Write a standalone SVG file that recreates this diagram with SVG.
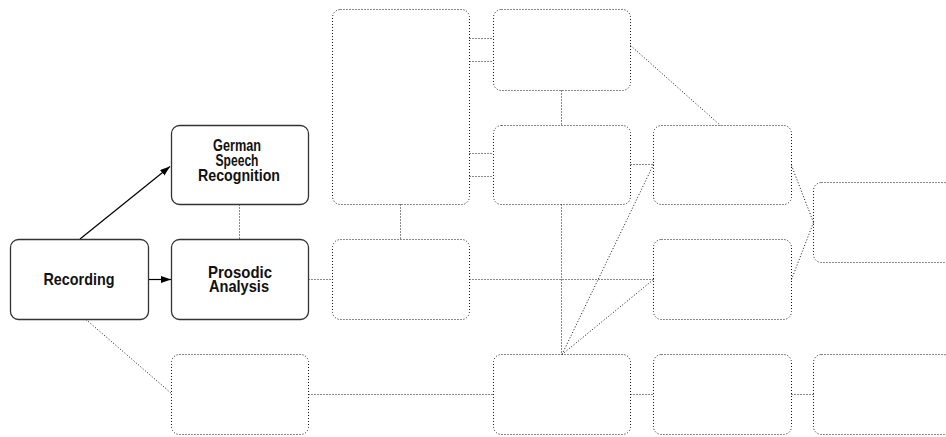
<svg xmlns="http://www.w3.org/2000/svg" width="946" height="437" viewBox="0 0 946 437">
  <style>
    .solid { fill: #fff; stroke: #333; stroke-width: 1.3; }
    .dotbox { fill: none; stroke: #111; stroke-width: 1; stroke-dasharray: 1 2; }
    .dot { fill: none; stroke: #111; stroke-width: 1; stroke-dasharray: 1 2; }
    .arrow { fill: none; stroke: #000; stroke-width: 1.2; }
    .label { font-family: "Liberation Sans Narrow", "Liberation Sans", Arial, sans-serif; font-weight: bold; font-size: 16.5px; fill: #111; text-anchor: middle; }
  </style>
  <defs>
    <marker id="head" markerWidth="11" markerHeight="8" refX="10" refY="3.5" orient="auto" markerUnits="userSpaceOnUse">
      <path d="M0,0 L10,3.5 L0,7 Z" fill="#000"/>
    </marker>
  </defs>
  <rect width="946" height="437" fill="#fff"/>

  <!-- connectors -->
  <g id="connectors">
    <line class="arrow" x1="80" y1="239" x2="170" y2="166.5" marker-end="url(#head)"/>
    <line class="arrow" x1="148.5" y1="279.5" x2="171" y2="279.5" marker-end="url(#head)"/>
    <line class="dot" x1="239.5" y1="204.5" x2="239.5" y2="239.5"/>
    <line class="dot" x1="308.5" y1="279.5" x2="332.5" y2="279.5"/>
    <line class="dot" x1="400.5" y1="204.5" x2="400.5" y2="239.5"/>
    <line class="dot" x1="469.5" y1="38.5" x2="493.5" y2="38.5"/>
    <line class="dot" x1="469.5" y1="61.5" x2="493.5" y2="61.5"/>
    <line class="dot" x1="469.5" y1="153.5" x2="493.5" y2="153.5"/>
    <line class="dot" x1="469.5" y1="176.5" x2="493.5" y2="176.5"/>
    <line class="dot" x1="561.5" y1="90.5" x2="561.5" y2="125.5"/>
    <line class="dot" x1="630.5" y1="45.5" x2="720.5" y2="125.5"/>
    <line class="dot" x1="630.5" y1="164.5" x2="653.5" y2="164.5"/>
    <line class="dot" x1="561.5" y1="204.5" x2="561.5" y2="354.5"/>
    <line class="dot" x1="469.5" y1="279.5" x2="653.5" y2="279.5"/>
    <line class="dot" x1="562" y1="354.5" x2="653.5" y2="164.5"/>
    <line class="dot" x1="562" y1="354.5" x2="653.5" y2="279.5"/>
    <line class="dot" x1="791.5" y1="165.5" x2="813.5" y2="222.5"/>
    <line class="dot" x1="791.5" y1="279.5" x2="813.5" y2="222.5"/>
    <line class="dot" x1="86" y1="319.5" x2="171.5" y2="393.5"/>
    <line class="dot" x1="308.5" y1="394.5" x2="493.5" y2="394.5"/>
    <line class="dot" x1="630.5" y1="394.5" x2="653.5" y2="394.5"/>
    <line class="dot" x1="791.5" y1="394.5" x2="813.5" y2="394.5"/>
  </g>

  <!-- labelled nodes -->
  <g id="recording">
    <rect class="solid" x="10.5" y="239.5" width="138" height="80" rx="8"/>
    <text class="label" x="79" y="285" textLength="71" lengthAdjust="spacingAndGlyphs">Recording</text>
  </g>
  <g id="german-speech-recognition">
    <rect class="solid" x="171.5" y="125.5" width="137" height="79" rx="8"/>
    <text class="label" x="237" y="150.5" textLength="48" lengthAdjust="spacingAndGlyphs">German</text>
    <text class="label" x="237" y="165.5" textLength="43" lengthAdjust="spacingAndGlyphs">Speech</text>
    <text class="label" x="239" y="180.5" textLength="82" lengthAdjust="spacingAndGlyphs">Recognition</text>
  </g>
  <g id="prosodic-analysis">
    <rect class="solid" x="171.5" y="239.5" width="137" height="80" rx="8"/>
    <text class="label" x="240" y="277.5" textLength="64" lengthAdjust="spacingAndGlyphs">Prosodic</text>
    <text class="label" x="239" y="292" textLength="60" lengthAdjust="spacingAndGlyphs">Analysis</text>
  </g>

  <!-- empty dotted nodes -->
  <g id="n-tall"><rect class="dotbox" x="332.5" y="9.5" width="137" height="195" rx="8"/></g>
  <g id="n-top"><rect class="dotbox" x="493.5" y="9.5" width="137" height="81" rx="8"/></g>
  <g id="n-upper"><rect class="dotbox" x="493.5" y="125.5" width="137" height="79" rx="8"/></g>
  <g id="n-right-upper"><rect class="dotbox" x="653.5" y="125.5" width="138" height="79" rx="8"/></g>
  <g id="n-right-middle"><rect class="dotbox" x="653.5" y="239.5" width="138" height="80" rx="8"/></g>
  <g id="n-far-right"><rect class="dotbox" x="813.5" y="182.5" width="138" height="80" rx="8"/></g>
  <g id="n-middle"><rect class="dotbox" x="332.5" y="239.5" width="137" height="80" rx="8"/></g>
  <g id="n-bottom-1"><rect class="dotbox" x="171.5" y="354.5" width="137" height="80" rx="8"/></g>
  <g id="n-bottom-2"><rect class="dotbox" x="493.5" y="354.5" width="137" height="80" rx="8"/></g>
  <g id="n-bottom-3"><rect class="dotbox" x="653.5" y="354.5" width="138" height="80" rx="8"/></g>
  <g id="n-bottom-4"><rect class="dotbox" x="813.5" y="354.5" width="138" height="80" rx="8"/></g>
</svg>
